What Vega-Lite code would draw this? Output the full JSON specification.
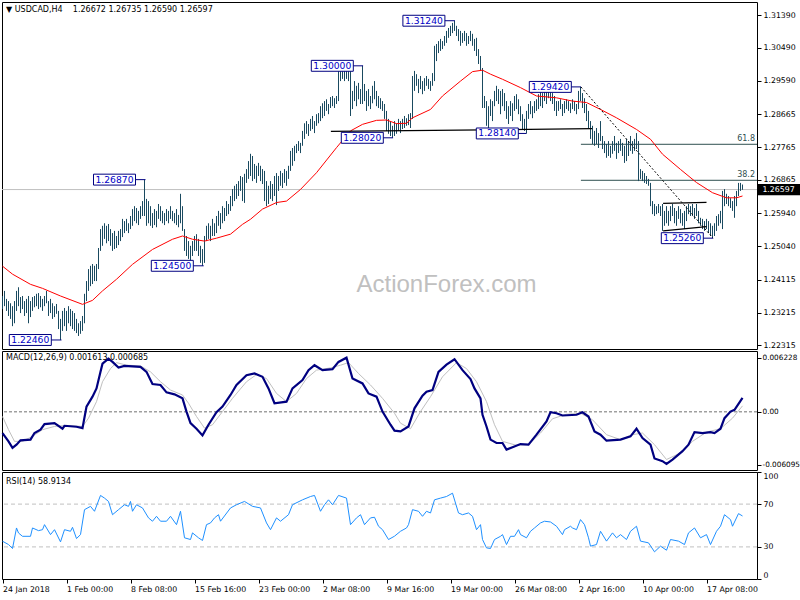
{
"$schema":"https://vega.github.io/schema/vega-lite/v6.json",
"padding":{"left":-3,"top":1,"right":0,"bottom":0},
"background":"white",
"spacing":0,
"resolve":{"scale":{"x":"independent","y":"independent"}},
"config":{"view":{"stroke":"black","strokeWidth":1},"axis":{"labelFont":"DejaVu Sans","labelFontSize":7.8,"labelColor":"black","tickColor":"black","domain":false,"grid":false,"labelOverlap":false}},
"datasets":{
"one":[{}],
"bars":[
{"i":0,"h":1.2367,"l":1.2331},{"i":1,"h":1.2381,"l":1.2339},{"i":2,"h":1.2359,"l":1.2326},{"i":3,"h":1.2353,"l":1.2312},{"i":4,"h":1.2347,"l":1.2304},{"i":5,"h":1.2339,"l":1.2284},{"i":6,"h":1.2353,"l":1.2292},{"i":7,"h":1.2381,"l":1.2326},{"i":8,"h":1.2391,"l":1.2339},{"i":9,"h":1.2364,"l":1.232},
{"i":10,"h":1.2367,"l":1.2331},{"i":11,"h":1.2353,"l":1.2312},{"i":12,"h":1.2359,"l":1.232},{"i":13,"h":1.2367,"l":1.2292},{"i":14,"h":1.2353,"l":1.2309},{"i":15,"h":1.2364,"l":1.2326},{"i":16,"h":1.2367,"l":1.2336},{"i":17,"h":1.2373,"l":1.2339},{"i":18,"h":1.2375,"l":1.2331},{"i":19,"h":1.2367,"l":1.2336},
{"i":20,"h":1.2359,"l":1.2326},{"i":21,"h":1.2367,"l":1.2339},{"i":22,"h":1.2381,"l":1.2347},{"i":23,"h":1.2353,"l":1.2312},{"i":24,"h":1.2359,"l":1.232},{"i":25,"h":1.2347,"l":1.2304},{"i":26,"h":1.2339,"l":1.2309},{"i":27,"h":1.2345,"l":1.2318},{"i":28,"h":1.2326,"l":1.2276},{"i":29,"h":1.2304,"l":1.2246},
{"i":30,"h":1.2326,"l":1.2271},{"i":31,"h":1.2334,"l":1.2284},{"i":32,"h":1.2326,"l":1.2271},{"i":33,"h":1.2339,"l":1.2292},{"i":34,"h":1.2331,"l":1.2284},{"i":35,"h":1.2326,"l":1.2276},{"i":36,"h":1.232,"l":1.2271},{"i":37,"h":1.2304,"l":1.2265},{"i":38,"h":1.2292,"l":1.2257},{"i":39,"h":1.2298,"l":1.2263},
{"i":40,"h":1.2312,"l":1.2271},{"i":41,"h":1.2373,"l":1.2292},{"i":42,"h":1.2408,"l":1.2353},{"i":43,"h":1.2441,"l":1.2381},{"i":44,"h":1.245,"l":1.2394},{"i":45,"h":1.2455,"l":1.24},{"i":46,"h":1.245,"l":1.2408},{"i":47,"h":1.2455,"l":1.2408},{"i":48,"h":1.2499,"l":1.2441},{"i":49,"h":1.2551,"l":1.2491},
{"i":50,"h":1.256,"l":1.2505},{"i":51,"h":1.2567,"l":1.2524},{"i":52,"h":1.256,"l":1.2512},{"i":53,"h":1.2565,"l":1.2518},{"i":54,"h":1.2551,"l":1.2505},{"i":55,"h":1.254,"l":1.2491},{"i":56,"h":1.2546,"l":1.2496},{"i":57,"h":1.2532,"l":1.2499},{"i":58,"h":1.2546,"l":1.2507},{"i":59,"h":1.2551,"l":1.2518},
{"i":60,"h":1.2579,"l":1.2529},{"i":61,"h":1.2573,"l":1.254},{"i":62,"h":1.2579,"l":1.2546},{"i":63,"h":1.2567,"l":1.254},{"i":64,"h":1.2587,"l":1.2551},{"i":65,"h":1.2606,"l":1.256},{"i":66,"h":1.2614,"l":1.2573},{"i":67,"h":1.2609,"l":1.2567},{"i":68,"h":1.2601,"l":1.2562},{"i":69,"h":1.2614,"l":1.2579},
{"i":70,"h":1.2628,"l":1.2587},{"i":71,"h":1.2687,"l":1.2587},{"i":72,"h":1.2634,"l":1.256},{"i":73,"h":1.2628,"l":1.2567},{"i":74,"h":1.2614,"l":1.256},{"i":75,"h":1.2595,"l":1.2554},{"i":76,"h":1.2606,"l":1.2562},{"i":77,"h":1.2601,"l":1.2556},{"i":78,"h":1.262,"l":1.2579},{"i":79,"h":1.2614,"l":1.2573},
{"i":80,"h":1.2601,"l":1.2567},{"i":81,"h":1.2595,"l":1.2562},{"i":82,"h":1.2606,"l":1.2573},{"i":83,"h":1.2601,"l":1.2567},{"i":84,"h":1.2614,"l":1.2579},{"i":85,"h":1.2601,"l":1.2573},{"i":86,"h":1.2595,"l":1.2567},{"i":87,"h":1.2606,"l":1.2562},{"i":88,"h":1.259,"l":1.2556},{"i":89,"h":1.2648,"l":1.2567},
{"i":90,"h":1.2614,"l":1.2546},{"i":91,"h":1.2551,"l":1.2491},{"i":92,"h":1.2532,"l":1.2477},{"i":93,"h":1.2518,"l":1.2469},{"i":94,"h":1.2505,"l":1.2463},{"i":95,"h":1.2518,"l":1.2477},{"i":96,"h":1.2532,"l":1.2491},{"i":97,"h":1.2537,"l":1.2491},{"i":98,"h":1.2524,"l":1.2477},{"i":99,"h":1.2505,"l":1.2458},
{"i":100,"h":1.2496,"l":1.245},{"i":101,"h":1.2532,"l":1.2458},{"i":102,"h":1.256,"l":1.2518},{"i":103,"h":1.2567,"l":1.2524},{"i":104,"h":1.256,"l":1.2518},{"i":105,"h":1.2579,"l":1.2532},{"i":106,"h":1.2567,"l":1.2532},{"i":107,"h":1.2587,"l":1.254},{"i":108,"h":1.2601,"l":1.256},{"i":109,"h":1.2595,"l":1.2551},
{"i":110,"h":1.2614,"l":1.2567},{"i":111,"h":1.2609,"l":1.2573},{"i":112,"h":1.2628,"l":1.2587},{"i":113,"h":1.262,"l":1.2592},{"i":114,"h":1.2642,"l":1.2601},{"i":115,"h":1.2661,"l":1.2614},{"i":116,"h":1.267,"l":1.2628},{"i":117,"h":1.2675,"l":1.2634},{"i":118,"h":1.2683,"l":1.2642},{"i":119,"h":1.2697,"l":1.2656},
{"i":120,"h":1.2694,"l":1.2628},{"i":121,"h":1.2703,"l":1.2623},{"i":122,"h":1.2716,"l":1.2678},{"i":123,"h":1.2738,"l":1.2689},{"i":124,"h":1.2758,"l":1.2697},{"i":125,"h":1.2752,"l":1.2683},{"i":126,"h":1.273,"l":1.2689},{"i":127,"h":1.2725,"l":1.2678},{"i":128,"h":1.2733,"l":1.2697},{"i":129,"h":1.2725,"l":1.2683},
{"i":130,"h":1.2716,"l":1.2675},{"i":131,"h":1.2711,"l":1.2628},{"i":132,"h":1.2683,"l":1.2614},{"i":133,"h":1.267,"l":1.262},{"i":134,"h":1.2683,"l":1.2634},{"i":135,"h":1.2675,"l":1.2628},{"i":136,"h":1.2697,"l":1.2642},{"i":137,"h":1.2705,"l":1.2617},{"i":138,"h":1.2697,"l":1.2656},{"i":139,"h":1.2711,"l":1.267},
{"i":140,"h":1.2705,"l":1.2664},{"i":141,"h":1.2716,"l":1.2678},{"i":142,"h":1.2711,"l":1.267},{"i":143,"h":1.2725,"l":1.2689},{"i":144,"h":1.2766,"l":1.2711},{"i":145,"h":1.2774,"l":1.2725},{"i":146,"h":1.278,"l":1.2738},{"i":147,"h":1.2785,"l":1.276},{"i":148,"h":1.2793,"l":1.2766},{"i":149,"h":1.2788,"l":1.276},
{"i":150,"h":1.2821,"l":1.278},{"i":151,"h":1.2842,"l":1.2799},{"i":152,"h":1.2848,"l":1.2813},{"i":153,"h":1.284,"l":1.2807},{"i":154,"h":1.2854,"l":1.2821},{"i":155,"h":1.2862,"l":1.2826},{"i":156,"h":1.2848,"l":1.2815},{"i":157,"h":1.2867,"l":1.2835},{"i":158,"h":1.287,"l":1.2842},{"i":159,"h":1.2889,"l":1.2848},
{"i":160,"h":1.2897,"l":1.2856},{"i":161,"h":1.2903,"l":1.2862},{"i":162,"h":1.2908,"l":1.2876},{"i":163,"h":1.2895,"l":1.2867},{"i":164,"h":1.2914,"l":1.2884},{"i":165,"h":1.2917,"l":1.2889},{"i":166,"h":1.2911,"l":1.2884},{"i":167,"h":1.2917,"l":1.2895},{"i":168,"h":1.2991,"l":1.2903},{"i":169,"h":1.2986,"l":1.2958},
{"i":170,"h":1.2994,"l":1.2964},{"i":171,"h":1.2986,"l":1.2958},{"i":172,"h":1.2991,"l":1.2964},{"i":173,"h":1.2997,"l":1.2958},{"i":174,"h":1.2986,"l":1.2862},{"i":175,"h":1.2931,"l":1.2881},{"i":176,"h":1.2958,"l":1.2903},{"i":177,"h":1.2945,"l":1.2889},{"i":178,"h":1.2953,"l":1.2908},{"i":179,"h":1.2936,"l":1.2895},
{"i":180,"h":1.3,"l":1.2895},{"i":181,"h":1.295,"l":1.2903},{"i":182,"h":1.2931,"l":1.2876},{"i":183,"h":1.2936,"l":1.2889},{"i":184,"h":1.2917,"l":1.2881},{"i":185,"h":1.2945,"l":1.2897},{"i":186,"h":1.2958,"l":1.2908},{"i":187,"h":1.2931,"l":1.2889},{"i":188,"h":1.2917,"l":1.2884},{"i":189,"h":1.2911,"l":1.2881},
{"i":190,"h":1.2903,"l":1.2876},{"i":191,"h":1.2895,"l":1.2854},{"i":192,"h":1.2876,"l":1.2821},{"i":193,"h":1.2854,"l":1.2813},{"i":194,"h":1.2848,"l":1.2807},{"i":195,"h":1.2835,"l":1.2802},{"i":196,"h":1.2848,"l":1.2807},{"i":197,"h":1.2842,"l":1.2813},{"i":198,"h":1.2854,"l":1.2821},{"i":199,"h":1.2848,"l":1.2815},
{"i":200,"h":1.2854,"l":1.2826},{"i":201,"h":1.2862,"l":1.2829},{"i":202,"h":1.2856,"l":1.2835},{"i":203,"h":1.2867,"l":1.2837},{"i":204,"h":1.287,"l":1.2829},{"i":205,"h":1.2972,"l":1.2854},{"i":206,"h":1.2986,"l":1.2931},{"i":207,"h":1.2977,"l":1.2945},{"i":208,"h":1.2964,"l":1.2925},{"i":209,"h":1.2972,"l":1.2936},
{"i":210,"h":1.2958,"l":1.2922},{"i":211,"h":1.2966,"l":1.2931},{"i":212,"h":1.2972,"l":1.2945},{"i":213,"h":1.2964,"l":1.2936},{"i":214,"h":1.2958,"l":1.2931},{"i":215,"h":1.298,"l":1.2945},{"i":216,"h":1.3055,"l":1.2958},{"i":217,"h":1.306,"l":1.3013},{"i":218,"h":1.3068,"l":1.3035},{"i":219,"h":1.3074,"l":1.3041},
{"i":220,"h":1.3068,"l":1.3046},{"i":221,"h":1.3082,"l":1.3055},{"i":222,"h":1.3096,"l":1.3063},{"i":223,"h":1.3104,"l":1.3077},{"i":224,"h":1.311,"l":1.3082},{"i":225,"h":1.3118,"l":1.309},{"i":226,"h":1.3124,"l":1.3096},{"i":227,"h":1.311,"l":1.3082},{"i":228,"h":1.3101,"l":1.3068},{"i":229,"h":1.3096,"l":1.3055},
{"i":230,"h":1.309,"l":1.3063},{"i":231,"h":1.3096,"l":1.3068},{"i":232,"h":1.309,"l":1.3055},{"i":233,"h":1.3082,"l":1.306},{"i":234,"h":1.3096,"l":1.3068},{"i":235,"h":1.3088,"l":1.3055},{"i":236,"h":1.3074,"l":1.3041},{"i":237,"h":1.3077,"l":1.3027},{"i":238,"h":1.3046,"l":1.3005},{"i":239,"h":1.3027,"l":1.2986},
{"i":240,"h":1.2994,"l":1.2884},{"i":241,"h":1.2917,"l":1.2884},{"i":242,"h":1.2903,"l":1.2835},{"i":243,"h":1.2889,"l":1.2829},{"i":244,"h":1.2908,"l":1.2862},{"i":245,"h":1.2903,"l":1.2848},{"i":246,"h":1.2931,"l":1.2889},{"i":247,"h":1.2945,"l":1.2903},{"i":248,"h":1.2936,"l":1.2895},{"i":249,"h":1.2931,"l":1.2867},
{"i":250,"h":1.2936,"l":1.2889},{"i":251,"h":1.2925,"l":1.2876},{"i":252,"h":1.2903,"l":1.2854},{"i":253,"h":1.2889,"l":1.284},{"i":254,"h":1.2903,"l":1.2862},{"i":255,"h":1.2897,"l":1.2848},{"i":256,"h":1.2917,"l":1.2876},{"i":257,"h":1.2922,"l":1.2881},{"i":258,"h":1.2908,"l":1.2867},{"i":259,"h":1.2889,"l":1.2848},
{"i":260,"h":1.2867,"l":1.2826},{"i":261,"h":1.2854,"l":1.2821},{"i":262,"h":1.2876,"l":1.2814},{"i":263,"h":1.2895,"l":1.2854},{"i":264,"h":1.2903,"l":1.2867},{"i":265,"h":1.2889,"l":1.2856},{"i":266,"h":1.2903,"l":1.287},{"i":267,"h":1.2908,"l":1.2876},{"i":268,"h":1.2922,"l":1.2881},{"i":269,"h":1.2931,"l":1.2889},
{"i":270,"h":1.2925,"l":1.2884},{"i":271,"h":1.2936,"l":1.2903},{"i":272,"h":1.2931,"l":1.2895},{"i":273,"h":1.2936,"l":1.2911},{"i":274,"h":1.2931,"l":1.2903},{"i":275,"h":1.2925,"l":1.2895},{"i":276,"h":1.2917,"l":1.2876},{"i":277,"h":1.2903,"l":1.2862},{"i":278,"h":1.2903,"l":1.2876},{"i":279,"h":1.2908,"l":1.2881},
{"i":280,"h":1.2895,"l":1.2862},{"i":281,"h":1.2903,"l":1.287},{"i":282,"h":1.2908,"l":1.2881},{"i":283,"h":1.2903,"l":1.2876},{"i":284,"h":1.2897,"l":1.287},{"i":285,"h":1.2908,"l":1.2881},{"i":286,"h":1.2903,"l":1.2876},{"i":287,"h":1.2895,"l":1.2867},{"i":288,"h":1.2931,"l":1.2881},{"i":289,"h":1.2942,"l":1.2903},
{"i":290,"h":1.2925,"l":1.2884},{"i":291,"h":1.2911,"l":1.287},{"i":292,"h":1.2895,"l":1.2848},{"i":293,"h":1.2876,"l":1.2829},{"i":294,"h":1.2848,"l":1.2799},{"i":295,"h":1.2835,"l":1.2785},{"i":296,"h":1.2821,"l":1.278},{"i":297,"h":1.2829,"l":1.2785},{"i":298,"h":1.2815,"l":1.2774},{"i":299,"h":1.2848,"l":1.2793},
{"i":300,"h":1.2807,"l":1.2771},{"i":301,"h":1.2793,"l":1.276},{"i":302,"h":1.2785,"l":1.2747},{"i":303,"h":1.2793,"l":1.2752},{"i":304,"h":1.278,"l":1.2747},{"i":305,"h":1.2793,"l":1.2758},{"i":306,"h":1.2807,"l":1.2766},{"i":307,"h":1.2788,"l":1.2744},{"i":308,"h":1.2793,"l":1.276},{"i":309,"h":1.2799,"l":1.2766},
{"i":310,"h":1.2788,"l":1.2752},{"i":311,"h":1.278,"l":1.2733},{"i":312,"h":1.2799,"l":1.2738},{"i":313,"h":1.2793,"l":1.2752},{"i":314,"h":1.2807,"l":1.2766},{"i":315,"h":1.2793,"l":1.2758},{"i":316,"h":1.2799,"l":1.2766},{"i":317,"h":1.2815,"l":1.2771},{"i":318,"h":1.2793,"l":1.2683},{"i":319,"h":1.2716,"l":1.2689},
{"i":320,"h":1.2711,"l":1.2683},{"i":321,"h":1.2705,"l":1.2678},{"i":322,"h":1.2697,"l":1.2675},{"i":323,"h":1.2689,"l":1.267},{"i":324,"h":1.2678,"l":1.2614},{"i":325,"h":1.2628,"l":1.2592},{"i":326,"h":1.262,"l":1.2587},{"i":327,"h":1.2614,"l":1.2592},{"i":328,"h":1.262,"l":1.2595},{"i":329,"h":1.2614,"l":1.2587},
{"i":330,"h":1.262,"l":1.2546},{"i":331,"h":1.2601,"l":1.256},{"i":332,"h":1.2614,"l":1.2567},{"i":333,"h":1.2601,"l":1.256},{"i":334,"h":1.2614,"l":1.2573},{"i":335,"h":1.262,"l":1.2587},{"i":336,"h":1.2609,"l":1.2567},{"i":337,"h":1.2601,"l":1.256},{"i":338,"h":1.2614,"l":1.2579},{"i":339,"h":1.2606,"l":1.2567},
{"i":340,"h":1.2595,"l":1.256},{"i":341,"h":1.2601,"l":1.2551},{"i":342,"h":1.2614,"l":1.2573},{"i":343,"h":1.262,"l":1.2592},{"i":344,"h":1.2614,"l":1.2587},{"i":345,"h":1.262,"l":1.2587},{"i":346,"h":1.2609,"l":1.2579},{"i":347,"h":1.262,"l":1.2587},{"i":348,"h":1.2601,"l":1.2567},{"i":349,"h":1.2582,"l":1.256},
{"i":350,"h":1.2579,"l":1.2551},{"i":351,"h":1.2573,"l":1.2546},{"i":352,"h":1.2579,"l":1.2551},{"i":353,"h":1.2573,"l":1.254},{"i":354,"h":1.2567,"l":1.2532},{"i":355,"h":1.256,"l":1.2526},{"i":356,"h":1.2567,"l":1.2532},{"i":357,"h":1.2587,"l":1.2546},{"i":358,"h":1.2592,"l":1.256},{"i":359,"h":1.2601,"l":1.2567},
{"i":360,"h":1.2656,"l":1.2551},{"i":361,"h":1.2661,"l":1.2614},{"i":362,"h":1.2648,"l":1.262},{"i":363,"h":1.2642,"l":1.2614},{"i":364,"h":1.2636,"l":1.2609},{"i":365,"h":1.2628,"l":1.2601},{"i":366,"h":1.2642,"l":1.2582},{"i":367,"h":1.2656,"l":1.2614},{"i":368,"h":1.2678,"l":1.2642},{"i":369,"h":1.2678,"l":1.2656},
{"i":370,"h":1.26735,"l":1.2659}
],
"ma":[
{"i":0,"v":1.2449},{"i":5,"v":1.2427},{"i":14,"v":1.2399},{"i":20,"v":1.2388},{"i":29,"v":1.2367},{"i":40,"v":1.2344},{"i":45,"v":1.2355},{"i":50,"v":1.2381},{"i":57,"v":1.2413},{"i":65,"v":1.2454},{"i":75,"v":1.2495},{"i":85,"v":1.2523},{"i":90,"v":1.2532},{"i":95,"v":1.2523},{"i":101,"v":1.2518},{"i":107,"v":1.2526},{"i":114,"v":1.2537},{"i":120,"v":1.2564},{"i":124,"v":1.2578},{"i":130,"v":1.2606},{"i":137,"v":1.2624},{"i":142,"v":1.2628},{"i":149,"v":1.266},{"i":157,"v":1.2706},{"i":167,"v":1.2775},{"i":174,"v":1.2821},{"i":180,"v":1.2839},{"i":187,"v":1.285},{"i":192,"v":1.2851},{"i":197,"v":1.2841},{"i":202,"v":1.2842},{"i":205,"v":1.2857},{"i":214,"v":1.288},{"i":220,"v":1.2917},{"i":229,"v":1.2958},{"i":235,"v":1.2984},{"i":240,"v":1.2988},{"i":244,"v":1.2977},{"i":250,"v":1.2963},{"i":259,"v":1.294},{"i":267,"v":1.2917},{"i":277,"v":1.2912},{"i":285,"v":1.2903},{"i":292,"v":1.2899},{"i":299,"v":1.288},{"i":307,"v":1.2857},{"i":317,"v":1.2825},{"i":324,"v":1.2798},{"i":330,"v":1.2757},{"i":339,"v":1.2715},{"i":347,"v":1.2679},{"i":355,"v":1.2651},{"i":362,"v":1.2637},{"i":367,"v":1.2637},{"i":370,"v":1.2642}
],
"labels":[
{"i":29.5,"c":13.9,"p":1.2246,"t":"1.22460"},{"i":71.5,"c":56,"p":1.2687,"t":"1.26870"},{"i":100.6,"c":84.9,"p":1.245,"t":"1.24500"},{"i":180.3,"c":164.9,"p":1.3,"t":"1.30000"},{"i":195.3,"c":179.9,"p":1.2802,"t":"1.28020"},{"i":226.2,"c":210.7,"p":1.3124,"t":"1.31240"},{"i":262,"c":247.4,"p":1.2814,"t":"1.28140"},{"i":289.2,"c":273.9,"p":1.2942,"t":"1.29420"},{"i":355.3,"c":339.9,"p":1.2526,"t":"1.25260"}
],
"trend":[
{"a":164.2,"p1":1.28197,"b":294.8,"p2":1.28271},{"a":330.3,"p1":1.26219,"b":352,"p2":1.26247},{"a":330.3,"p1":1.2546,"b":352,"p2":1.25576}
],
"diag":[{"a":289.2,"p1":1.2942,"b":355.3,"p2":1.2526}],
"fib":[{"a":289.2,"b":377.25,"p":1.27842,"t":"61.8"},{"a":289.2,"b":377.25,"p":1.26852,"t":"38.2"}],
"macd":[
{"i":0,"m":-0.00245},{"i":3,"m":-0.00341},{"i":5,"m":-0.00417},{"i":7,"m":-0.00379},{"i":9,"m":-0.00329},{"i":14,"m":-0.00321},{"i":16,"m":-0.00245},{"i":19,"m":-0.00206},{"i":21,"m":-0.00142},{"i":26,"m":-0.00131},{"i":30,"m":-0.00195},{"i":31,"m":-0.00161},{"i":37,"m":-0.00172},{"i":40,"m":-0.00188},{"i":42,"m":0.00061},{"i":45,"m":0.00175},{"i":47,"m":0.00271},{"i":49,"m":0.00462},{"i":50,"m":0.00557},{"i":53,"m":0.00615},{"i":55,"m":0.00577},{"i":58,"m":0.00512},{"i":61,"m":0.00531},{"i":69,"m":0.0052},{"i":72,"m":0.00462},{"i":75,"m":0.00321},{"i":79,"m":0.0031},{"i":82,"m":0.00225},{"i":86,"m":0.00202},{"i":90,"m":0.00156},{"i":92,"m":0.00003},{"i":94,"m":-0.00131},{"i":97,"m":-0.00195},{"i":100,"m":-0.00272},{"i":103,"m":-0.00149},{"i":107,"m":-0.00005},{"i":110,"m":0.00061},{"i":114,"m":0.00195},{"i":117,"m":0.0031},{"i":122,"m":0.00424},{"i":126,"m":0.00443},{"i":130,"m":0.00405},{"i":133,"m":0.00271},{"i":136,"m":0.00099},{"i":142,"m":0.00118},{"i":145,"m":0.00271},{"i":150,"m":0.00367},{"i":153,"m":0.00482},{"i":156,"m":0.00539},{"i":160,"m":0.00482},{"i":165,"m":0.00493},{"i":168,"m":0.00577},{"i":172,"m":0.00626},{"i":175,"m":0.00385},{"i":180,"m":0.00328},{"i":183,"m":0.00213},{"i":187,"m":0.00175},{"i":190,"m":0.00003},{"i":194,"m":-0.00149},{"i":196,"m":-0.00218},{"i":199,"m":-0.00226},{"i":203,"m":-0.00169},{"i":206,"m":0.00041},{"i":210,"m":0.00187},{"i":212,"m":0.00233},{"i":215,"m":0.00252},{"i":218,"m":0.00462},{"i":222,"m":0.00546},{"i":226,"m":0.00608},{"i":230,"m":0.00482},{"i":234,"m":0.00379},{"i":236,"m":0.00271},{"i":239,"m":0.00156},{"i":240,"m":-0.00034},{"i":242,"m":-0.00169},{"i":244,"m":-0.00321},{"i":247,"m":-0.0036},{"i":250,"m":-0.0036},{"i":252,"m":-0.00436},{"i":255,"m":-0.00409},{"i":259,"m":-0.00372},{"i":263,"m":-0.00379},{"i":267,"m":-0.00264},{"i":272,"m":-0.00111},{"i":274,"m":-0.00005},{"i":277,"m":-0.00016},{"i":280,"m":-0.00042},{"i":287,"m":-0.00034},{"i":290,"m":-0.00005},{"i":293,"m":-0.00054},{"i":296,"m":-0.00226},{"i":299,"m":-0.00264},{"i":302,"m":-0.00333},{"i":309,"m":-0.00321},{"i":314,"m":-0.00283},{"i":317,"m":-0.00195},{"i":320,"m":-0.00303},{"i":324,"m":-0.00379},{"i":326,"m":-0.00539},{"i":330,"m":-0.0057},{"i":332,"m":-0.00601},{"i":335,"m":-0.00551},{"i":340,"m":-0.00455},{"i":343,"m":-0.00379},{"i":346,"m":-0.00234},{"i":350,"m":-0.00245},{"i":354,"m":-0.00234},{"i":356,"m":-0.00245},{"i":359,"m":-0.00195},{"i":361,"m":-0.00073},{"i":364,"m":0.00003},{"i":366,"m":0.00023},{"i":369,"m":0.00126},{"i":370,"m":0.00161}
],
"sig":[
{"i":0,"s":-0.00054},{"i":3,"s":-0.00206},{"i":6,"s":-0.00341},{"i":10,"s":-0.00341},{"i":15,"s":-0.00283},{"i":20,"s":-0.00206},{"i":26,"s":-0.00169},{"i":32,"s":-0.00157},{"i":40,"s":-0.00169},{"i":43,"s":-0.00073},{"i":47,"s":0.00118},{"i":50,"s":0.00348},{"i":54,"s":0.005},{"i":57,"s":0.00569},{"i":62,"s":0.00539},{"i":69,"s":0.00531},{"i":74,"s":0.00462},{"i":79,"s":0.00348},{"i":84,"s":0.00252},{"i":90,"s":0.00195},{"i":93,"s":0.00099},{"i":97,"s":-0.00054},{"i":101,"s":-0.00188},{"i":105,"s":-0.00149},{"i":110,"s":0.00003},{"i":115,"s":0.00156},{"i":122,"s":0.00348},{"i":127,"s":0.00431},{"i":132,"s":0.00385},{"i":137,"s":0.00213},{"i":142,"s":0.00118},{"i":147,"s":0.00213},{"i":152,"s":0.00385},{"i":157,"s":0.00482},{"i":164,"s":0.00508},{"i":169,"s":0.00539},{"i":173,"s":0.00569},{"i":178,"s":0.00443},{"i":184,"s":0.0031},{"i":190,"s":0.00156},{"i":196,"s":-0.00016},{"i":199,"s":-0.00131},{"i":204,"s":-0.00195},{"i":209,"s":0.00003},{"i":214,"s":0.00175},{"i":220,"s":0.00405},{"i":227,"s":0.00569},{"i":232,"s":0.005},{"i":237,"s":0.00348},{"i":242,"s":0.00118},{"i":246,"s":-0.00149},{"i":250,"s":-0.00341},{"i":257,"s":-0.00387},{"i":263,"s":-0.00379},{"i":269,"s":-0.00245},{"i":275,"s":-0.0008},{"i":282,"s":-0.00028},{"i":289,"s":-0.00016},{"i":295,"s":-0.00092},{"i":302,"s":-0.00264},{"i":309,"s":-0.00321},{"i":315,"s":-0.00264},{"i":320,"s":-0.00245},{"i":326,"s":-0.00379},{"i":332,"s":-0.00551},{"i":339,"s":-0.00475},{"i":345,"s":-0.00341},{"i":352,"s":-0.00234},{"i":359,"s":-0.00195},{"i":365,"s":-0.00073},{"i":370,"s":0.00069}
],
"rsi":[
{"i":0,"r":35.3},{"i":3,"r":32.2},{"i":5,"r":28.5},{"i":7,"r":47.7},{"i":8,"r":43},{"i":10,"r":39.9},{"i":14,"r":39.9},{"i":15,"r":47.7},{"i":18,"r":45.2},{"i":20,"r":46.1},{"i":21,"r":50.8},{"i":24,"r":41.5},{"i":26,"r":46.1},{"i":29,"r":34.7},{"i":31,"r":46.1},{"i":34,"r":44.6},{"i":35,"r":48.3},{"i":37,"r":37.8},{"i":39,"r":41.5},{"i":41,"r":64.8},{"i":44,"r":67.9},{"i":46,"r":63.3},{"i":49,"r":78.1},{"i":51,"r":75.6},{"i":53,"r":72.5},{"i":55,"r":60.1},{"i":58,"r":64.8},{"i":61,"r":69.4},{"i":63,"r":67.9},{"i":64,"r":72.5},{"i":65,"r":63.3},{"i":67,"r":69.4},{"i":70,"r":66.4},{"i":73,"r":57.1},{"i":75,"r":54},{"i":77,"r":58.6},{"i":79,"r":54},{"i":82,"r":54},{"i":84,"r":58.6},{"i":87,"r":50.8},{"i":89,"r":63.3},{"i":91,"r":38.5},{"i":94,"r":36.9},{"i":95,"r":43.1},{"i":98,"r":38.5},{"i":100,"r":36},{"i":102,"r":50.8},{"i":104,"r":52.4},{"i":106,"r":57.1},{"i":108,"r":60.1},{"i":109,"r":54},{"i":114,"r":66.4},{"i":117,"r":69.4},{"i":121,"r":72.5},{"i":125,"r":67.9},{"i":129,"r":66.4},{"i":132,"r":52.4},{"i":134,"r":46.1},{"i":137,"r":57.1},{"i":139,"r":54},{"i":143,"r":60.1},{"i":145,"r":69.4},{"i":150,"r":74},{"i":154,"r":77.1},{"i":156,"r":78.1},{"i":159,"r":63.3},{"i":161,"r":69.4},{"i":163,"r":74},{"i":165,"r":69.4},{"i":168,"r":78.1},{"i":172,"r":75.6},{"i":174,"r":50.8},{"i":177,"r":57.1},{"i":179,"r":60.1},{"i":181,"r":50.8},{"i":184,"r":57.1},{"i":186,"r":57.7},{"i":188,"r":49.3},{"i":190,"r":46.1},{"i":193,"r":36.9},{"i":196,"r":40},{"i":199,"r":44.6},{"i":202,"r":47.7},{"i":203,"r":50.8},{"i":205,"r":64.8},{"i":208,"r":63.3},{"i":210,"r":58.6},{"i":212,"r":63.3},{"i":214,"r":61.7},{"i":216,"r":74},{"i":219,"r":75.6},{"i":222,"r":77.1},{"i":225,"r":80.2},{"i":228,"r":61.7},{"i":230,"r":60.1},{"i":233,"r":61.7},{"i":235,"r":58.6},{"i":237,"r":46.1},{"i":239,"r":50.8},{"i":240,"r":36.9},{"i":242,"r":29.1},{"i":244,"r":28.5},{"i":246,"r":36.9},{"i":249,"r":39.9},{"i":250,"r":41.5},{"i":252,"r":32.2},{"i":254,"r":39.9},{"i":256,"r":39.9},{"i":258,"r":46.1},{"i":259,"r":41.5},{"i":262,"r":38.5},{"i":264,"r":44.6},{"i":266,"r":47.7},{"i":269,"r":52.4},{"i":271,"r":54},{"i":274,"r":53.3},{"i":277,"r":49.3},{"i":280,"r":41.5},{"i":281,"r":46.1},{"i":284,"r":49.3},{"i":285,"r":47.7},{"i":287,"r":46.1},{"i":289,"r":55.5},{"i":291,"r":50.8},{"i":293,"r":38.5},{"i":294,"r":30.7},{"i":297,"r":32.2},{"i":299,"r":44.6},{"i":302,"r":35.4},{"i":305,"r":43.1},{"i":307,"r":38.5},{"i":309,"r":41.5},{"i":312,"r":36.9},{"i":314,"r":44.6},{"i":317,"r":49.3},{"i":319,"r":35.4},{"i":323,"r":33.8},{"i":326,"r":25.4},{"i":329,"r":30.7},{"i":332,"r":26.9},{"i":334,"r":36.9},{"i":338,"r":35.4},{"i":341,"r":32.2},{"i":343,"r":43.1},{"i":346,"r":47.7},{"i":349,"r":38.5},{"i":352,"r":41.5},{"i":354,"r":32.2},{"i":357,"r":44.6},{"i":359,"r":49.3},{"i":361,"r":60.1},{"i":364,"r":55.5},{"i":365,"r":49.3},{"i":368,"r":61.1},{"i":370,"r":58.9}
]
},
"vconcat":[
{
"width":755,"height":347,
"title":{"text":"▼ USDCAD,H4\u00a0\u00a0\u00a0 1.26672 1.26735 1.26590 1.26597","anchor":"start","frame":"group","offset":-12,"dx":4,"fontSize":8,"fontWeight":"normal","font":"DejaVu Sans","color":"black"},
"layer":[
{"data":{"name":"one"},"mark":{"type":"text","fontSize":24,"font":"Liberation Sans","color":"#c0c0c0"},
 "encoding":{"x":{"datum":222,"type":"quantitative","scale":{"domain":[-0.25,377.25],"nice":false,"zero":false},"axis":null},"y":{"datum":1.2397,"type":"quantitative","scale":{"domain":[1.22212,1.31755],"zero":false,"nice":false}},"text":{"value":"ActionForex.com"}}},
{"data":{"name":"one"},"mark":{"type":"rule","color":"#c0c0c0","strokeWidth":1},"encoding":{"y":{"datum":1.26597,"type":"quantitative","scale":{"domain":[1.22212,1.31755],"zero":false,"nice":false}}}},
{"data":{"name":"fib"},"mark":{"type":"rule","color":"#2f4f4f","strokeWidth":1},
 "encoding":{"x":{"field":"a","type":"quantitative","scale":{"domain":[-0.25,377.25],"nice":false,"zero":false},"axis":null},"x2":{"field":"b"},"y":{"field":"p","type":"quantitative","scale":{"domain":[1.22212,1.31755],"zero":false,"nice":false}}}},
{"data":{"name":"fib"},"mark":{"type":"text","color":"#2f4f4f","fontSize":8,"font":"DejaVu Sans","align":"right","baseline":"bottom","dx":-2,"dy":-1},
 "encoding":{"x":{"field":"b","type":"quantitative","scale":{"domain":[-0.25,377.25],"nice":false,"zero":false},"axis":null},"y":{"field":"p","type":"quantitative","scale":{"domain":[1.22212,1.31755],"zero":false,"nice":false}},"text":{"field":"t"}}},
{"data":{"name":"bars"},"mark":{"type":"rule","color":"#1a4a60","strokeWidth":1},
 "encoding":{"x":{"field":"i","type":"quantitative","scale":{"domain":[-0.25,377.25],"nice":false,"zero":false},"axis":null},"y":{"field":"l","type":"quantitative","scale":{"domain":[1.22212,1.31755],"zero":false,"nice":false},"axis":{"orient":"right","title":null,"values":[1.22315,1.23215,1.24115,1.2504,1.2594,1.26865,1.27765,1.28665,1.2959,1.3049,1.3139],"tickCount":30,"labelExpr":"format(datum.value,'.5f')","tickSize":4,"labelPadding":2,"labelOverlap":false,"labelBound":false}},"y2":{"field":"h"}}},
{"data":{"name":"ma"},"mark":{"type":"line","color":"#ff0000","strokeWidth":1},
 "encoding":{"x":{"field":"i","type":"quantitative","scale":{"domain":[-0.25,377.25],"nice":false,"zero":false},"axis":null},"y":{"field":"v","type":"quantitative","scale":{"domain":[1.22212,1.31755],"zero":false,"nice":false}}}},
{"data":{"name":"trend"},"mark":{"type":"rule","color":"black","strokeWidth":1.3},
 "encoding":{"x":{"field":"a","type":"quantitative","scale":{"domain":[-0.25,377.25],"nice":false,"zero":false},"axis":null},"x2":{"field":"b"},"y":{"field":"p1","type":"quantitative","scale":{"domain":[1.22212,1.31755],"zero":false,"nice":false}},"y2":{"field":"p2"}}},
{"data":{"name":"diag"},"mark":{"type":"rule","color":"black","strokeWidth":1,"strokeDash":[2,2]},
 "encoding":{"x":{"field":"a","type":"quantitative","scale":{"domain":[-0.25,377.25],"nice":false,"zero":false},"axis":null},"x2":{"field":"b"},"y":{"field":"p1","type":"quantitative","scale":{"domain":[1.22212,1.31755],"zero":false,"nice":false}},"y2":{"field":"p2"}}},
{"data":{"name":"labels"},"mark":{"type":"rule","color":"#000080","strokeWidth":1},
 "encoding":{"x":{"field":"c","type":"quantitative","scale":{"domain":[-0.25,377.25],"nice":false,"zero":false},"axis":null},"x2":{"field":"i"},"y":{"field":"p","type":"quantitative","scale":{"domain":[1.22212,1.31755],"zero":false,"nice":false}}}},
{"data":{"name":"labels"},"mark":{"type":"point","shape":"M-1,-0.26L1,-0.26L1,0.26L-1,0.26Z","size":1764,"fill":"white","fillOpacity":1,"stroke":"#000080","strokeWidth":1,"opacity":1},
 "encoding":{"x":{"field":"c","type":"quantitative","scale":{"domain":[-0.25,377.25],"nice":false,"zero":false},"axis":null},"y":{"field":"p","type":"quantitative","scale":{"domain":[1.22212,1.31755],"zero":false,"nice":false}}}},
{"data":{"name":"labels"},"mark":{"type":"text","fontSize":9.2,"font":"DejaVu Sans","color":"#0000c8"},
 "encoding":{"x":{"field":"c","type":"quantitative","scale":{"domain":[-0.25,377.25],"nice":false,"zero":false},"axis":null},"y":{"field":"p","type":"quantitative","scale":{"domain":[1.22212,1.31755],"zero":false,"nice":false}},"text":{"field":"t"}}},
{"data":{"name":"one"},"mark":{"type":"point","shape":"M-1,-0.26L1,-0.26L1,0.26L-1,0.26Z","size":1849,"fill":"black","fillOpacity":1,"strokeWidth":0,"opacity":1},
 "encoding":{"x":{"datum":388,"type":"quantitative","scale":{"domain":[-0.25,377.25],"nice":false,"zero":false},"axis":null},"y":{"datum":1.26597,"type":"quantitative","scale":{"domain":[1.22212,1.31755],"zero":false,"nice":false}}}},
{"data":{"name":"one"},"mark":{"type":"text","fontSize":7.8,"font":"DejaVu Sans","color":"white"},
 "encoding":{"x":{"datum":388,"type":"quantitative","scale":{"domain":[-0.25,377.25],"nice":false,"zero":false},"axis":null},"y":{"datum":1.26597,"type":"quantitative","scale":{"domain":[1.22212,1.31755],"zero":false,"nice":false}},"text":{"value":"1.26597"}}}
]
},
{
"width":755,"height":119,
"title":{"text":"MACD(12,26,9) 0.001613 0.000685","anchor":"start","frame":"group","offset":-11,"dx":4,"fontSize":8,"fontWeight":"normal","font":"DejaVu Sans","color":"black"},
"layer":[
{"data":{"name":"one"},"mark":{"type":"rule","color":"#707070","strokeWidth":1,"strokeDash":[3,2]},
 "encoding":{"y":{"datum":0,"type":"quantitative","scale":{"domain":[-0.00672,0.00703],"zero":false,"nice":false}}}},
{"data":{"name":"sig"},"mark":{"type":"line","color":"#c0c0c0","strokeWidth":1},
 "encoding":{"x":{"field":"i","type":"quantitative","scale":{"domain":[-0.25,377.25],"nice":false,"zero":false},"axis":null},"y":{"field":"s","type":"quantitative","scale":{"domain":[-0.00672,0.00703],"zero":false,"nice":false}}}},
{"data":{"name":"macd"},"mark":{"type":"line","color":"#000080","strokeWidth":2.2},
 "encoding":{"x":{"field":"i","type":"quantitative","scale":{"domain":[-0.25,377.25],"nice":false,"zero":false},"axis":null},"y":{"field":"m","type":"quantitative","scale":{"domain":[-0.00672,0.00703],"zero":false,"nice":false},"axis":{"orient":"right","title":null,"values":[-0.006095,0,0.006228],"tickCount":30,"labelExpr":"datum.value==0 ? '0.00' : (datum.value < 0 ? '-' + format(-datum.value,'.6f') : format(datum.value,'.6f'))","tickSize":4,"labelPadding":1,"labelFontSize":7.3,"labelOverlap":false,"labelBound":false}}}}
]
},
{
"width":755,"height":107,
"title":{"text":"RSI(14) 58.9134","anchor":"start","frame":"group","offset":-14,"dx":4,"fontSize":8,"fontWeight":"normal","font":"DejaVu Sans","color":"black"},
"layer":[
{"data":{"name":"one"},"mark":{"type":"rule","color":"#c0c0c0","strokeWidth":1,"strokeDash":[4,3]},
 "encoding":{"y":{"datum":70,"type":"quantitative","scale":{"domain":[0,100],"nice":false}}}},
{"data":{"name":"one"},"mark":{"type":"rule","color":"#c0c0c0","strokeWidth":1,"strokeDash":[4,3]},
 "encoding":{"y":{"datum":30,"type":"quantitative","scale":{"domain":[0,100],"nice":false}}}},
{"data":{"name":"rsi"},"mark":{"type":"line","color":"#1e90ff","strokeWidth":1},
 "encoding":{"x":{"field":"i","type":"quantitative","scale":{"domain":[-0.25,377.25],"nice":false,"zero":false},"axis":{"orient":"bottom","title":null,"values":[0,32,64,96,128,160,192,224,256,288,320,352],"tickCount":30,"labelExpr":"['24 Jan 2018','1 Feb 00:00','8 Feb 08:00','15 Feb 16:00','23 Feb 00:00','2 Mar 08:00','9 Mar 16:00','19 Mar 00:00','26 Mar 08:00','2 Apr 16:00','10 Apr 00:00','17 Apr 08:00'][round(datum.value/32)]","labelAlign":"left","tickSize":4,"labelPadding":2,"labelFlush":false,"labelOverlap":false}},"y":{"field":"r","type":"quantitative","scale":{"domain":[0,100],"nice":false},"axis":{"orient":"right","title":null,"values":[0,30,70,100],"tickCount":30,"tickSize":4,"labelPadding":2,"labelFlush":true,"labelOverlap":false}}}}
]
}
]
}
